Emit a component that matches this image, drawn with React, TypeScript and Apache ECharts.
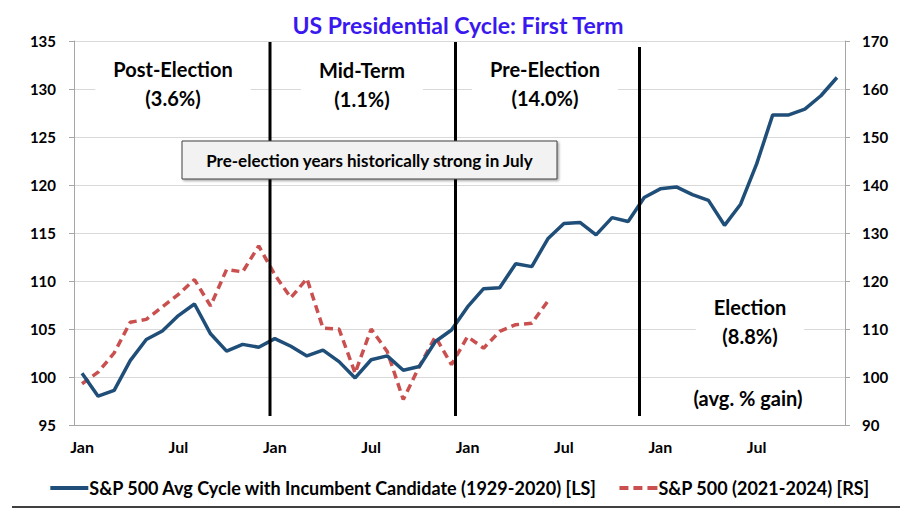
import React, { useEffect, useRef } from "react";
import * as echarts from "echarts";

const monthNames = ["Jan", "Feb", "Mar", "Apr", "May", "Jun", "Jul", "Aug", "Sep", "Oct", "Nov", "Dec"];
const categories: string[] = [...monthNames, ...monthNames, ...monthNames, ...monthNames];

const incumbentCycle = [
  100.4, 98.0, 98.6, 101.7, 103.9, 104.8, 106.4, 107.6, 104.5, 102.7, 103.4, 103.1,
  104.0, 103.2, 102.2, 102.8, 101.6, 99.9, 101.8, 102.2, 100.7, 101.1, 103.7, 104.9,
  107.3, 109.2, 109.3, 111.8, 111.5, 114.4, 116.0, 116.1, 114.8, 116.6, 116.2, 118.7,
  119.6, 119.8, 119.0, 118.4, 115.8, 118.0, 122.2, 127.3, 127.3, 127.9, 129.3, 131.2,
];

const sp2021 = [
  98.6, 101.0, 105.0, 111.4, 112.0, 114.6, 117.2, 120.3, 114.8, 122.4, 121.9, 127.3,
  121.3, 116.5, 120.5, 110.2, 110.0, 100.8, 110.0, 105.3, 95.3, 102.2, 108.4, 102.6,
  108.4, 106.0, 109.5, 110.9, 111.2, 115.8,
];

const seriesNames = [
  "S&P 500 Avg Cycle with Incumbent Candidate (1929-2020) [LS]",
  "S&P 500 (2021-2024) [RS]",
];

const FONT = "Lato, 'Open Sans', sans-serif";
const BLUE = "#1f4e79";
const RED = "#c9504f";

export default function App() {
  const ref = useRef<HTMLDivElement>(null);
  useEffect(() => {
    document.body.style.margin = "0";
    if (!ref.current) return;
    const chart = echarts.init(ref.current, undefined, { renderer: "svg" });
    const textStyle = (text: string, x: number, y: number, lh = 29) => ({
      type: "text",
      z: 50,
      style: {
        text,
        x,
        y,
        align: "center",
        verticalAlign: "middle",
        font: `bold 20px ${FONT}`,
        fill: "#000",
        lineHeight: lh,
        backgroundColor: "#fff",
        padding: [2, 18],
      },
    });
    const vline = (x: number, y1: number, y2: number) => ({
      type: "line",
      z: 40,
      shape: { x1: x, y1, x2: x, y2 },
      style: { stroke: "#000", lineWidth: 3 },
    });
    chart.setOption({
      animation: false,
      backgroundColor: "#fff",
      title: {
        text: "US Presidential Cycle: First Term",
        left: 453,
        textAlign: "center",
        top: 8,
        textStyle: { fontFamily: FONT, fontWeight: "bold", fontSize: 23, color: "#3a18f0" },
      },
      grid: { left: 74, right: 75, top: 41, bottom: 89 },
      legend: {
        top: 474,
        left: "center",
        itemWidth: 38,
        itemHeight: 4,
        itemGap: 22,
        textStyle: { fontFamily: FONT, fontWeight: "bold", fontSize: 18, color: "#000", padding: [0, 0, 0, -4] },
        data: [
          { name: seriesNames[0], icon: "rect" },
          { name: seriesNames[1], icon: "path://M0,0h9v4h-9z M14,0h9v4h-9z M28,0h10v4h-10z" },
        ],
      },
      xAxis: {
        type: "category",
        data: categories,
        boundaryGap: true,
        axisLine: { lineStyle: { color: "#a6a6a6", width: 1 } },
        axisTick: { interval: 5, length: 5, lineStyle: { color: "#a6a6a6" } },
        axisLabel: {
          interval: 5,
          margin: 13,
          fontFamily: FONT,
          fontWeight: "bold",
          fontSize: 16,
          color: "#000",
        },
        splitLine: { show: false },
      },
      yAxis: [
        {
          type: "value",
          min: 95,
          max: 135,
          interval: 5,
          position: "left",
          axisLine: { show: true, lineStyle: { color: "#a6a6a6" } },
          axisTick: { show: true, length: 5, lineStyle: { color: "#a6a6a6" } },
          axisLabel: { margin: 18, fontFamily: FONT, fontWeight: "bold", fontSize: 15, color: "#000" },
          splitLine: { show: true, lineStyle: { color: "#d9d9d9", width: 1 } },
        },
        {
          type: "value",
          min: 90,
          max: 170,
          interval: 10,
          position: "right",
          axisLine: { show: true, lineStyle: { color: "#a6a6a6" } },
          axisTick: { show: true, length: 5, lineStyle: { color: "#a6a6a6" } },
          axisLabel: { margin: 17, fontFamily: FONT, fontWeight: "bold", fontSize: 15, color: "#000" },
          splitLine: { show: false },
        },
      ],
      series: [
        {
          name: seriesNames[0],
          type: "line",
          yAxisIndex: 0,
          data: incumbentCycle,
          symbol: "none",
          z: 3,
          lineStyle: { color: BLUE, width: 3.5 },
          itemStyle: { color: BLUE },
        },
        {
          name: seriesNames[1],
          type: "line",
          yAxisIndex: 1,
          data: sp2021,
          symbol: "none",
          z: 2,
          lineStyle: { color: RED, width: 3.5, type: [8, 5] },
          itemStyle: { color: RED },
        },
      ],
      graphic: [
        vline(270, 42, 416),
        vline(455.5, 42, 416),
        vline(639.5, 47, 416),
        textStyle("Post-Election\n(3.6%)", 173, 83),
        textStyle("Mid-Term\n(1.1%)", 362, 84),
        textStyle("Pre-Election\n(14.0%)", 545, 83.5),
        textStyle("Election\n(8.8%)", 750, 321.5),
        {
          type: "text",
          z: 50,
          style: {
            text: "(avg. % gain)",
            x: 748,
            y: 398,
            align: "center",
            verticalAlign: "middle",
            font: `bold 20px ${FONT}`,
            fill: "#000",
          },
        },
        {
          type: "rect",
          z: 45,
          shape: { x: 182, y: 141, width: 375, height: 38 },
          style: {
            fill: "#f2f2f2",
            stroke: "#404040",
            lineWidth: 1,
            shadowBlur: 2,
            shadowOffsetX: 1.5,
            shadowOffsetY: 1.5,
            shadowColor: "rgba(0,0,0,0.35)",
          },
        },
        {
          type: "text",
          z: 46,
          style: {
            text: "Pre-election years historically strong in July",
            x: 369.5,
            y: 160,
            align: "center",
            verticalAlign: "middle",
            font: `bold 17px ${FONT}`,
            fill: "#000",
          },
        },
        {
          type: "line",
          z: 40,
          shape: { x1: 12, y1: 507, x2: 900, y2: 507 },
          style: { stroke: "#000", lineWidth: 1.5 },
        },
      ],
    });
    return () => chart.dispose();
  }, []);
  return <div ref={ref} style={{ width: 920, height: 514 }} />;
}
